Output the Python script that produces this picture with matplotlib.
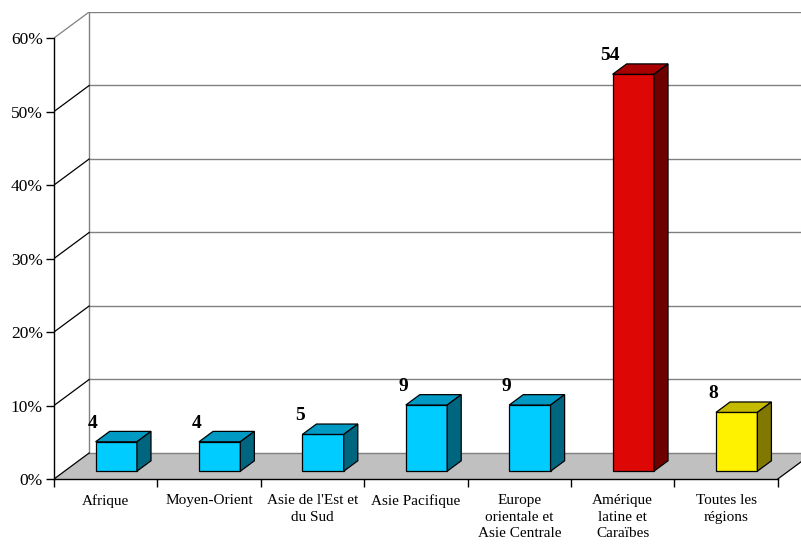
import matplotlib.pyplot as plt
from matplotlib.patches import Polygon

categories = ["Afrique", "Moyen-Orient", "Asie de l'Est et\ndu Sud", "Asie Pacifique",
              "Europe\norientale et\nAsie Centrale", "Amérique\nlatine et\nCaraïbes",
              "Toutes les\nrégions"]
values = [4, 4, 5, 9, 9, 54, 8]
yticks = [0, 10, 20, 30, 40, 50, 60]

# front / top / side shades for each bar
cyan = ("#00CCFF", "#0099C4", "#006680")
red = ("#DD0806", "#A80000", "#6E0000")
yellow = ("#FFF200", "#C4BA00", "#807800")
shades = [cyan, cyan, cyan, cyan, cyan, red, yellow]

# depth of the box in data units (x in categories, y in percent)
DX, DY = 0.34, 3.54
W = 0.40          # bar width
D0, D1 = 0.3, 0.7  # bar front / back as a fraction of the depth

fig = plt.figure(figsize=(8.01, 5.44), dpi=100)
ax = fig.add_axes([54 / 801, 65 / 544, 747 / 801, 467 / 544])
n = len(categories)
xmax = 7.224
ax.set_xlim(0, xmax)
ax.set_ylim(0, 60 + DY)

# floor
ax.add_patch(Polygon([(0, 0), (n, 0), (n + DX, DY), (DX, DY)], closed=True,
                     facecolor="#C0C0C0", edgecolor="none", zorder=1))
ax.plot([n, n + DX], [0, DY], color="black", lw=0.9, zorder=2, clip_on=True)

# back wall and side wall lines
ax.plot([DX, DX], [DY, 60 + DY], color="#808080", lw=1.0, zorder=1)
for v in yticks:
    ax.plot([DX, xmax], [v + DY, v + DY], color="#808080", lw=1.0, zorder=1)
    ax.plot([0, DX], [v, v + DY], color="#808080" if v == 60 else "black",
            lw=0.9, zorder=2)

# 3d bars
for i, (v, (front, top, side)) in enumerate(zip(values, shades)):
    x0 = i + (1 - W) / 2 + D0 * DX
    y0 = D0 * DY
    x1 = x0 + W
    y1 = y0 + v
    ddx, ddy = (D1 - D0) * DX, (D1 - D0) * DY
    kw = dict(closed=True, edgecolor="black", lw=0.9, zorder=3, joinstyle="miter")
    ax.add_patch(Polygon([(x0, y0), (x1, y0), (x1, y1), (x0, y1)], facecolor=front, **kw))
    ax.add_patch(Polygon([(x0, y1), (x1, y1), (x1 + ddx, y1 + ddy), (x0 + ddx, y1 + ddy)],
                         facecolor=top, **kw))
    ax.add_patch(Polygon([(x1, y0), (x1 + ddx, y0 + ddy), (x1 + ddx, y1 + ddy), (x1, y1)],
                         facecolor=side, **kw))
    ax.annotate(str(v), (x0, y1), xytext=(-2, 13.5), textcoords="offset points",
                ha="center", va="center", fontsize=14, fontweight="bold",
                family="Liberation Serif", zorder=4)

# axes
for s in ["top", "right"]:
    ax.spines[s].set_visible(False)
ax.spines["left"].set_bounds(0, 60)
ax.spines["bottom"].set_bounds(0, n)
for s in ["left", "bottom"]:
    ax.spines[s].set_linewidth(1.0)
    ax.spines[s].set_zorder(2)

ax.set_yticks(yticks)
ax.set_yticklabels([f"{v}%" for v in yticks], family="Liberation Serif", fontsize=12.5)
ax.tick_params(axis="y", length=6, width=1.0, pad=2)

ax.set_xticks(range(n + 1))
ax.set_xticklabels([])
ax.set_xticks([i + 0.5 for i in range(n)], minor=True)
ax.set_xticklabels(categories, minor=True, family="Liberation Serif", fontsize=11,
                   linespacing=1.35, va="top")
ax.tick_params(axis="x", which="major", length=6, width=1.0)
ax.tick_params(axis="x", which="minor", length=0, pad=11)

fig.savefig("out.png", dpi=100)
